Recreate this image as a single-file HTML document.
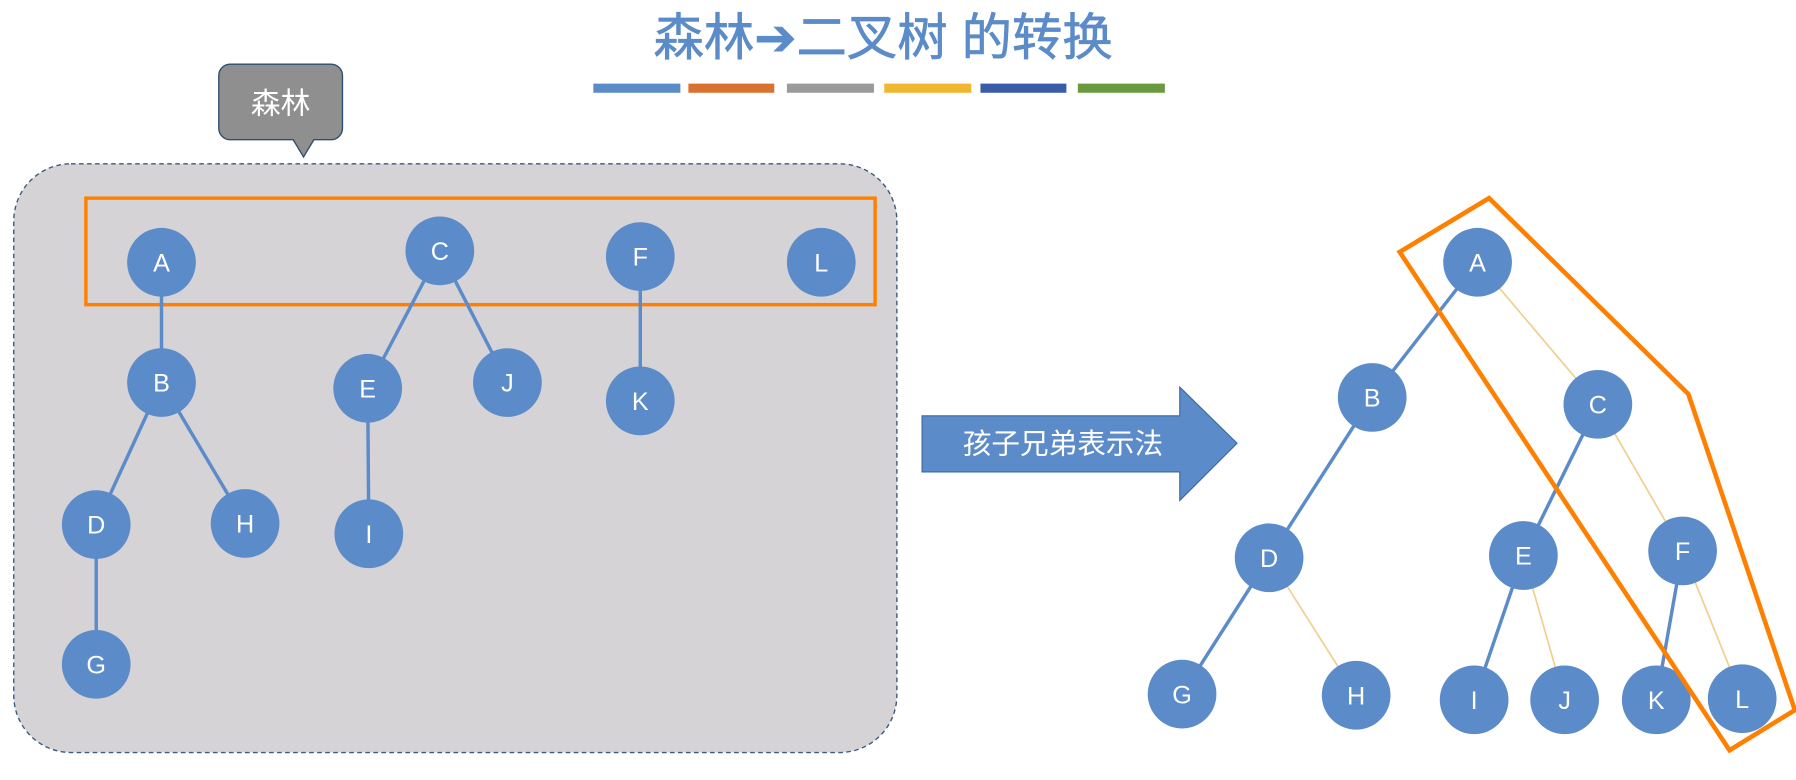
<!DOCTYPE html>
<html><head><meta charset="utf-8"><style>
html,body{margin:0;padding:0;background:#fff;}
svg{display:block;}
text{font-family:"Liberation Sans","Noto Sans CJK SC",sans-serif;}
</style></head><body>
<svg width="1796" height="780" viewBox="0 0 1568 681" preserveAspectRatio="none" xmlns="http://www.w3.org/2000/svg">
<rect width="1568" height="681" fill="#fff"/>
<text x="771" y="48" text-anchor="middle" font-size="44" fill="#5b8bc8" stroke="#5b8bc8" stroke-width="0.6">森林➔二叉树 的转换</text>
<g>
<rect x="518" y="73" width="76" height="8" fill="#5b8bc8"/>
<rect x="601" y="73" width="75" height="8" fill="#d9722f"/>
<rect x="687" y="73" width="76" height="8" fill="#9a9a9a"/>
<rect x="772" y="73" width="76" height="8" fill="#f0b830"/>
<rect x="856" y="73" width="75" height="8" fill="#3a5ba8"/>
<rect x="941" y="73" width="76" height="8" fill="#6a9a40"/>
</g>
<rect x="12" y="143" width="771" height="514" rx="50" fill="#d5d3d6" stroke="#3a5a80" stroke-width="1.2" stroke-dasharray="4,3"/>
<path d="M201,56 H289 A10,10 0 0 1 299,66 V112 A10,10 0 0 1 289,122 H274 L265,137 L256,122 H201 A10,10 0 0 1 191,112 V66 A10,10 0 0 1 201,56 Z" fill="#8f8f8f" stroke="#2f4f70" stroke-width="1.2"/>
<text x="245" y="99" text-anchor="middle" font-size="26" fill="#fff">森林</text>
<rect x="75" y="173" width="689" height="93" fill="none" stroke="#ff8000" stroke-width="3"/>
<g stroke="#5b8bc8" stroke-width="3">
<line x1="141" y1="229" x2="141" y2="334"/><line x1="141" y1="334" x2="84" y2="458"/>
<line x1="141" y1="334" x2="214" y2="457"/><line x1="84" y1="458" x2="84" y2="580"/>
<line x1="384" y1="219" x2="321" y2="339"/><line x1="384" y1="219" x2="443" y2="334"/>
<line x1="321" y1="339" x2="322" y2="466"/><line x1="559" y1="224" x2="559" y2="350"/>
</g>
<g fill="#5b8bc8">
<circle cx="141" cy="229" r="30"/><circle cx="384" cy="219" r="30"/><circle cx="559" cy="224" r="30"/><circle cx="717" cy="229" r="30"/>
<circle cx="141" cy="334" r="30"/><circle cx="321" cy="339" r="30"/><circle cx="443" cy="334" r="30"/><circle cx="559" cy="350" r="30"/>
<circle cx="84" cy="458" r="30"/><circle cx="214" cy="457" r="30"/><circle cx="322" cy="466" r="30"/><circle cx="84" cy="580" r="30"/>
</g>
<g fill="#fff" font-size="22" text-anchor="middle">
<text x="141" y="237">A</text><text x="384" y="227">C</text><text x="559" y="232">F</text><text x="717" y="237">L</text>
<text x="141" y="342">B</text><text x="321" y="347">E</text><text x="443" y="342">J</text><text x="559" y="358">K</text>
<text x="84" y="466">D</text><text x="214" y="465">H</text><text x="322" y="474">I</text><text x="84" y="588">G</text>
</g>
<path d="M805,363 H1030 V338 L1080,387 L1030,437 V412 H805 Z" fill="#5b8bc8" stroke="#3a6aa0" stroke-width="1"/>
<text x="928" y="396" text-anchor="middle" font-size="25" fill="#fff">孩子兄弟表示法</text>
<g stroke="#f0d090" stroke-width="1.5">
<line x1="1290" y1="229" x2="1395" y2="353"/><line x1="1395" y1="353" x2="1469" y2="481"/>
<line x1="1469" y1="481" x2="1521" y2="610"/><line x1="1108" y1="487" x2="1184" y2="607"/>
<line x1="1330" y1="485" x2="1366" y2="611"/>
</g>
<g stroke="#5b8bc8" stroke-width="3">
<line x1="1290" y1="229" x2="1198" y2="347"/><line x1="1198" y1="347" x2="1108" y2="487"/>
<line x1="1108" y1="487" x2="1032" y2="606"/><line x1="1395" y1="353" x2="1330" y2="485"/>
<line x1="1330" y1="485" x2="1287" y2="611"/><line x1="1469" y1="481" x2="1446" y2="611"/>
</g>
<g fill="#5b8bc8">
<circle cx="1290" cy="229" r="30"/><circle cx="1198" cy="347" r="30"/><circle cx="1395" cy="353" r="30"/>
<circle cx="1108" cy="487" r="30"/><circle cx="1330" cy="485" r="30"/><circle cx="1469" cy="481" r="30"/>
<circle cx="1032" cy="606" r="30"/><circle cx="1184" cy="607" r="30"/><circle cx="1287" cy="611" r="30"/>
<circle cx="1366" cy="611" r="30"/><circle cx="1446" cy="611" r="30"/><circle cx="1521" cy="610" r="30"/>
</g>
<g fill="#fff" font-size="22" text-anchor="middle">
<text x="1290" y="237">A</text><text x="1198" y="355">B</text><text x="1395" y="361">C</text>
<text x="1108" y="495">D</text><text x="1330" y="493">E</text><text x="1469" y="489">F</text>
<text x="1032" y="614">G</text><text x="1184" y="615">H</text><text x="1287" y="619">I</text>
<text x="1366" y="619">J</text><text x="1446" y="619">K</text><text x="1521" y="618">L</text>
</g>
<polygon points="1222,220 1300,173 1474,344 1567,620 1510,655" fill="none" stroke="#ff8000" stroke-width="4" stroke-linejoin="miter"/>
</svg>
</body></html>
